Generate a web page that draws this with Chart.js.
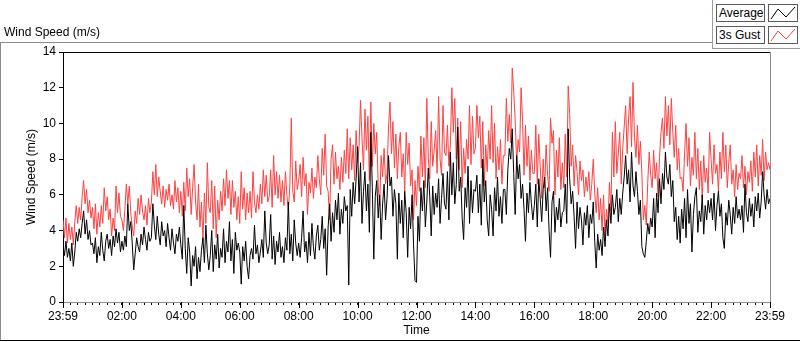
<!DOCTYPE html>
<html>
<head>
<meta charset="utf-8">
<script src="https://cdn.jsdelivr.net/npm/chart.js@4/dist/chart.umd.min.js"></script>
<style>
  html, body { margin: 0; padding: 0; background: #fff; }
  #wrap { position: relative; width: 800px; height: 342px; overflow: hidden; font-family: "Liberation Sans", Arial, sans-serif; }
  #chart { position: absolute; left: 0; top: 0; }
  #title { position: absolute; left: 4px; top: 25px; font-size: 12px; color: #000; }
  #frameTop { position: absolute; left: 0; top: 42px; width: 712px; height: 1px; background: #8c8c8c; }
  #frameLeft { position: absolute; left: 0; top: 42px; width: 1px; height: 299px; background: #8c8c8c; }
  #frameBottom { position: absolute; left: 0; top: 340px; width: 800px; height: 1px; background: #000; }
  #legend { position: absolute; left: 712px; top: 0; width: 88px; height: 48px; border-left: 1px solid #9c9c9c; border-bottom: 1px solid #9c9c9c; background: #fff; }
  .lg-name { position: absolute; left: 3px; width: 45px; height: 16px; border: 1px solid #5a5a5a; font-size: 12px; line-height: 16px; padding-left: 2px; color: #000; }
  .lg-line { position: absolute; left: 55px; width: 28px; height: 16px; border: 1px solid #5a5a5a; }
</style>
</head>
<body>
<div id="wrap">
  <canvas id="chart" width="800" height="342"></canvas>
  <div id="frameTop"></div>
  <div id="frameLeft"></div>
  <div id="frameBottom"></div>
  <div id="title">Wind Speed (m/s)</div>
  <div id="legend">
    <div class="lg-name" style="top:4px">Average</div>
    <svg class="lg-line" style="top:4px" viewBox="0 0 28 16"><polyline points="2,14 9,4 17,12 26,2" fill="none" stroke="#000" stroke-width="1"/></svg>
    <div class="lg-name" style="top:26px">3s Gust</div>
    <svg class="lg-line" style="top:26px" viewBox="0 0 28 16"><polyline points="2,14 9,4 17,12 26,2" fill="none" stroke="#ff4040" stroke-width="1"/></svg>
  </div>
</div>
<script>
// minutes after 23:59, one sample every 3 minutes
const stepMinutes = 3;
const xTickLabels = ['23:59', '02:00', '04:00', '06:00', '08:00', '10:00', '12:00',
                     '14:00', '16:00', '18:00', '20:00', '22:00', '23:59'];
const yTicks = [0, 2, 4, 6, 8, 10, 12, 14];

// 3s gust (m/s), one row per hour
const gustSpeed = [
  4.6, 3.6, 4.7, 3.3, 4.4, 3.5, 4.2, 3.2, 4.5, 5.4, 4.4, 5.3, 4.6, 5.9, 6.8, 5.5, 6.3, 5.0, 5.7, 4.7,
  5.3, 4.1, 5.5, 3.8, 5.0, 4.2, 5.4, 4.4, 6.4, 5.1, 5.9, 4.6, 5.2, 3.7, 4.7, 4.0, 6.5, 5.0, 6.1, 4.8,
  4.6, 4.0, 5.2, 6.6, 5.5, 6.5, 5.0, 4.2, 3.7, 5.1, 4.4, 5.8, 4.9, 6.0, 5.1, 4.6, 5.4, 4.3, 5.8, 5.0,
  5.6, 7.3, 6.0, 7.7, 5.9, 7.0, 6.2, 5.5, 6.5, 5.3, 6.3, 5.7, 6.6, 5.4, 6.0, 5.2, 6.8, 5.6, 6.4, 5.0,
  6.2, 4.8, 6.7, 5.1, 7.5, 5.9, 6.9, 4.9, 6.4, 7.7, 5.6, 4.6, 6.6, 4.2, 5.6, 3.4, 6.1, 4.4, 7.8, 5.3,
  5.0, 6.8, 4.1, 6.5, 3.6, 5.7, 4.6, 6.2, 5.1, 6.9, 5.4, 7.4, 5.8, 6.8, 4.9, 6.8, 5.3, 6.2, 4.6, 5.9,
  4.4, 7.3, 5.2, 6.4, 4.6, 6.1, 5.0, 6.2, 4.7, 7.3, 5.6, 5.0, 6.0, 5.2, 6.6, 5.5, 7.4, 5.9, 7.1, 5.6,
  5.9, 7.4, 5.3, 8.2, 6.0, 7.3, 5.8, 7.1, 5.6, 6.8, 5.4, 7.3, 6.0, 5.1, 6.5, 10.3, 6.2, 5.6, 7.9, 6.3,
  6.8, 7.7, 5.9, 8.1, 6.5, 7.2, 4.9, 6.7, 6.1, 7.5, 5.8, 7.0, 6.4, 8.2, 6.9, 6.0, 8.6, 7.1, 9.4, 6.5,
  6.2, 4.6, 8.0, 8.8, 6.6, 8.4, 6.9, 7.6, 6.3, 8.1, 6.7, 8.5, 7.2, 9.7, 6.9, 9.2, 7.4, 8.8, 6.8, 9.6,
  7.8, 8.7, 11.3, 9.2, 7.4, 10.8, 8.5, 10.4, 6.8, 11.2, 7.6, 10.0, 8.3, 9.5, 6.5, 5.4, 8.2, 7.0, 8.6, 6.6,
  7.2, 9.8, 11.2, 8.3, 10.1, 7.5, 9.4, 6.9, 8.7, 9.5, 7.0, 8.3, 6.2, 9.5, 7.7, 8.9, 6.5, 7.4, 4.6, 6.8,
  5.4, 7.6, 6.2, 9.3, 7.0, 9.2, 6.4, 11.4, 8.1, 6.9, 10.1, 7.6, 8.5, 9.6, 7.2, 11.5, 8.0, 7.1, 11.0, 8.4,
  8.2, 9.9, 7.6, 8.8, 12.0, 9.5, 11.4, 8.0, 10.3, 7.4, 10.1, 6.4, 8.6, 7.2, 9.1, 8.0, 11.0, 7.7, 10.4, 8.3,
  8.6, 11.0, 9.2, 10.4, 7.5, 10.1, 6.5, 8.8, 7.3, 9.6, 8.0, 11.0, 7.8, 10.0, 6.9, 8.7, 7.4, 9.1, 6.6, 8.2,
  8.2, 11.4, 9.0, 10.5, 8.9, 13.1, 11.8, 10.2, 7.8, 9.1, 8.4, 12.0, 10.2, 7.1, 9.9, 7.6, 9.3, 6.8, 8.5, 7.2,
  7.2, 9.9, 6.6, 9.4, 7.6, 5.8, 8.0, 6.4, 8.8, 7.1, 6.2, 10.3, 8.9, 9.6, 6.0, 8.5, 7.0, 9.2, 6.3, 7.8,
  6.4, 9.4, 7.0, 12.1, 10.5, 7.6, 8.8, 6.5, 8.2, 7.3, 6.0, 7.9, 6.8, 7.4, 5.9, 7.0, 6.2, 7.3, 5.7, 6.6,
  8.0, 6.1, 5.0, 6.4, 4.6, 5.8, 4.0, 6.0, 3.7, 5.2, 4.4, 6.7, 5.1, 9.5, 7.0, 10.1, 7.2, 8.3, 9.5, 6.6,
  8.6, 9.8, 11.0, 8.3, 10.3, 11.5, 8.7, 12.3, 9.2, 8.1, 9.9, 7.7, 9.0, 7.2, 4.6, 5.4, 4.3, 6.7, 8.4, 7.1,
  6.4, 8.5, 6.9, 7.8, 5.9, 8.1, 9.5, 10.3, 8.6, 11.5, 9.3, 11.0, 8.8, 11.4, 9.5, 8.1, 9.9, 7.4, 8.6, 6.9,
  7.0, 6.2, 8.3, 10.0, 7.6, 9.2, 6.5, 8.1, 7.1, 9.5, 6.9, 8.6, 6.3, 7.9, 5.8, 8.2, 6.7, 7.5, 6.1, 9.5,
  8.0, 6.6, 8.8, 7.2, 7.7, 6.2, 8.4, 6.9, 9.5, 7.3, 8.8, 6.4, 7.8, 8.8, 6.6, 7.4, 5.9, 7.7, 6.3, 7.2,
  6.9, 8.2, 6.4, 7.6, 6.0, 7.3, 6.7, 7.9, 6.2, 8.4, 7.0, 8.8, 6.5, 8.2, 7.1, 9.1, 6.8, 8.4, 7.4, 7.8,
  7.4
];

// average wind speed (m/s), one row per hour
const avgSpeed = [
  3.2, 2.6, 3.4, 2.5, 3.0, 2.3, 3.3, 2.0, 2.8, 3.9, 3.4, 4.1, 3.6, 4.4, 5.1, 3.8, 4.6, 3.5, 4.0, 3.2,
  3.3, 2.7, 3.6, 2.2, 3.1, 2.6, 3.9, 2.9, 2.3, 3.4, 3.8, 3.0, 3.5, 2.6, 3.7, 3.1, 4.1, 3.3, 3.9, 2.8,
  3.4, 2.9, 3.7, 3.1, 5.5, 4.0, 4.5, 3.3, 1.8, 2.7, 3.6, 3.1, 2.8, 3.8, 3.2, 4.2, 3.5, 2.9, 3.9, 3.4,
  3.6, 5.5, 4.3, 3.5, 4.8, 3.8, 3.2, 4.5, 3.7, 4.0, 3.1, 4.4, 3.6, 2.9, 4.1, 3.3, 2.7, 3.8, 3.4, 4.2,
  3.2, 2.4, 5.4, 3.0, 1.6, 3.6, 2.8, 0.9, 2.6, 2.0, 3.1, 1.3, 2.5, 1.7, 2.9, 3.6, 2.2, 4.3, 2.7, 1.8,
  2.6, 4.0, 1.7, 3.2, 2.4, 3.8, 1.9, 3.0, 2.5, 4.1, 2.2, 3.4, 2.8, 4.5, 2.3, 3.5, 1.6, 3.9, 2.9, 3.3,
  2.8, 1.0, 3.1, 2.3, 3.4, 2.0, 1.3, 2.6, 3.0, 2.4, 4.3, 2.7, 3.2, 2.2, 2.8, 3.5, 2.5, 5.1, 3.3, 2.7,
  3.2, 4.9, 2.4, 3.7, 2.1, 3.4, 2.8, 3.9, 2.5, 3.1, 2.2, 3.6, 2.9, 5.6, 2.7, 3.8, 2.3, 4.6, 3.3, 2.6,
  3.3, 2.5, 3.6, 5.1, 2.8, 3.4, 2.2, 3.9, 2.6, 4.4, 3.1, 2.4, 3.7, 4.3, 2.9, 3.5, 4.8, 3.0, 4.1, 1.5,
  4.2, 5.5, 3.4, 5.0, 3.9, 5.7, 4.6, 6.1, 3.8, 5.2, 4.4, 5.9, 5.1, 5.4, 0.95, 6.3, 4.8, 6.7, 5.5, 6.9,
  8.7, 5.6, 7.8, 4.4, 6.2, 7.3, 5.1, 6.6, 3.9, 9.5, 6.4, 2.4, 5.9, 6.8, 4.7, 6.0, 3.5, 5.5, 6.6, 4.6,
  5.8, 8.2, 6.5, 7.0, 4.8, 6.3, 5.5, 2.4, 6.1, 4.4, 5.7, 3.6, 6.2, 5.0, 2.5, 5.3, 4.1, 6.0, 3.2, 1.2,
  1.1, 4.8, 3.4, 6.4, 5.1, 6.8, 4.2, 5.6, 7.5, 5.9, 3.7, 6.5, 4.9, 6.1, 5.3, 6.9, 4.4, 5.8, 7.2, 5.5,
  5.2, 7.3, 4.6, 8.4, 6.0, 7.8, 5.5, 6.6, 9.8, 6.2, 7.0, 4.7, 3.5, 6.4, 5.3, 7.6, 4.4, 6.8, 5.0, 6.3,
  6.2, 7.1, 5.0, 6.6, 4.3, 8.0, 5.6, 6.8, 4.6, 3.7, 6.0, 5.2, 3.7, 6.4, 5.1, 7.0, 4.8, 5.9, 4.4, 6.3,
  6.3, 4.9, 7.4, 8.6, 8.0, 9.7, 7.2, 4.9, 8.2, 6.9, 7.7, 5.8, 6.6, 5.2, 3.4, 6.1, 5.0, 6.7, 5.5, 4.6,
  5.4, 6.6, 4.2, 6.9, 5.8, 4.5, 6.3, 7.0, 5.1, 6.4, 4.0, 2.5, 5.6, 6.2, 3.9, 5.3, 4.6, 5.8, 4.2, 5.0,
  5.1, 6.6, 4.4, 9.7, 6.9, 5.5, 6.2, 4.8, 3.0, 5.6, 4.1, 5.3, 4.6, 3.2, 5.0, 4.3, 5.4, 3.6, 4.9, 4.4,
  5.6, 3.4, 1.9, 3.8, 2.9, 3.5, 2.6, 4.2, 3.1, 4.6, 3.7, 5.5, 4.4, 6.0, 4.9, 5.3, 6.3, 4.5, 5.8, 4.9,
  6.1, 7.0, 8.2, 6.6, 7.4, 5.6, 8.4, 6.5, 5.9, 7.3, 6.2, 4.9, 5.7, 3.1, 2.7, 2.5, 3.4, 4.4, 3.8, 4.7,
  4.2, 5.8, 3.6, 6.1, 5.0, 6.9, 5.5, 7.2, 6.3, 8.4, 7.0, 6.6, 7.7, 5.9, 6.8, 4.5, 5.3, 3.5, 4.8, 3.3,
  5.2, 4.1, 5.8, 3.6, 6.3, 4.4, 5.5, 2.8, 4.9, 5.9, 6.4, 3.9, 5.1, 4.5, 6.0, 3.8, 5.4, 4.6, 5.7, 5.0,
  5.8, 4.6, 6.1, 4.0, 5.4, 6.2, 4.8, 5.5, 3.6, 3.0, 5.0, 4.3, 5.7, 4.9, 3.8, 5.3, 4.4, 5.9, 4.7, 5.2,
  4.6, 5.4, 3.9, 6.6, 5.0, 4.5, 5.8, 4.8, 5.5, 4.2, 5.9, 5.1, 6.1, 4.7, 5.6, 7.3, 6.0, 5.2, 6.3, 5.5,
  5.8
];

const toPoints = arr => arr.map((v, i) => ({ x: i * stepMinutes, y: v }));

// plot frame: black top, gray right, longer major ticks on x
const framePlugin = {
  id: 'frame',
  afterDraw(chart) {
    const { ctx, chartArea: a, scales } = chart;
    ctx.save();
    ctx.lineWidth = 1;
    ctx.strokeStyle = '#000';
    ctx.beginPath();
    ctx.moveTo(a.left, a.top + 0.5);
    ctx.lineTo(a.right + 1, a.top + 0.5);
    ctx.stroke();
    ctx.strokeStyle = '#8c8c8c';
    ctx.beginPath();
    ctx.moveTo(a.right + 0.5, a.top);
    ctx.lineTo(a.right + 0.5, a.bottom);
    ctx.stroke();
    ctx.strokeStyle = '#000';
    xTickLabels.forEach((lab, i) => {
      const px = Math.round(scales.x.getPixelForValue(i * 120)) + 0.5;
      ctx.beginPath();
      ctx.moveTo(px, a.bottom);
      ctx.lineTo(px, a.bottom + 6);
      ctx.stroke();
    });
    ctx.restore();
  }
};

const font = { family: '"Liberation Sans", Arial, sans-serif', size: 12 };

new Chart(document.getElementById('chart'), {
  type: 'line',
  data: {
    datasets: [
      {
        label: 'Average',
        data: toPoints(avgSpeed),
        borderColor: '#000000',
        borderWidth: 1,
        pointRadius: 0,
        tension: 0
      },
      {
        label: '3s Gust',
        data: toPoints(gustSpeed),
        borderColor: '#ff4040',
        borderWidth: 1,
        pointRadius: 0,
        tension: 0
      }
    ]
  },
  options: {
    responsive: false,
    animation: false,
    events: [],
    layout: { padding: { left: 0, top: 52, right: 30, bottom: 0 } },
    plugins: { legend: { display: false }, tooltip: { enabled: false } },
    scales: {
      x: {
        type: 'linear',
        min: 0,
        max: 1440,
        afterFit: s => { s.height = 40; },
        afterBuildTicks: s => {
          const t = [];
          for (let m = 0; m <= 1440; m += 15) t.push({ value: m });
          s.ticks = t;
        },
        ticks: {
          autoSkip: false,
          maxRotation: 0,
          padding: 4,
          color: '#000',
          font: font,
          callback: v => (v % 120 === 0 ? xTickLabels[v / 120] : '')
        },
        grid: { drawOnChartArea: false, tickLength: 3, color: '#000' },
        border: { color: '#8c8c8c' },
        title: { display: true, text: 'Time', color: '#000', font: font, padding: { top: 0, bottom: 4 } }
      },
      y: {
        min: 0,
        max: 14,
        afterFit: s => { s.width = 63; },
        afterBuildTicks: s => { s.ticks = yTicks.map(v => ({ value: v })); },
        ticks: { padding: 3, color: '#000', font: font },
        grid: { drawOnChartArea: false, tickLength: 4, color: '#000' },
        border: { color: '#000' },
        title: { display: true, text: 'Wind Speed (m/s)', color: '#000', font: font, padding: { top: 24, bottom: 0 } }
      }
    }
  },
  plugins: [framePlugin]
});
</script>
</body>
</html>
